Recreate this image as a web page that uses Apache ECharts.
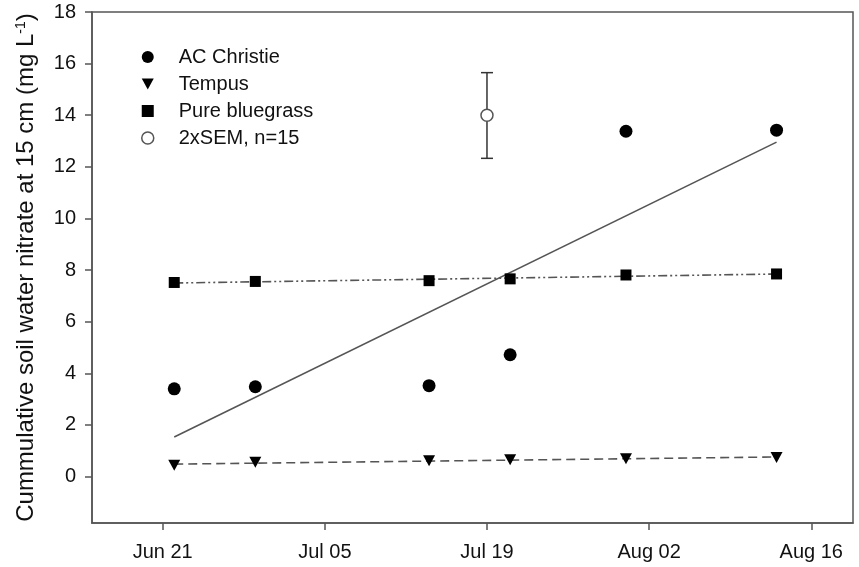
<!DOCTYPE html>
<html>
<head>
<meta charset="utf-8">
<script src="https://cdn.jsdelivr.net/npm/echarts@6/dist/echarts.min.js"></script>
<style>
  html, body { margin: 0; padding: 0; background: #ffffff; }
  #chart { width: 859px; height: 567px; }
</style>
</head>
<body>
<div id="chart"></div>
<script>
// Sampling days, counted from Jun 21
const sampleDays = [1, 8, 23, 30, 40, 53];
// Cumulative soil water nitrate at 15 cm (mg L-1)
const acChristie = [3.40, 3.48, 3.52, 4.72, 13.38, 13.42];
const tempus = [0.44, 0.55, 0.61, 0.65, 0.69, 0.74];
const pureBluegrass = [7.52, 7.56, 7.59, 7.66, 7.81, 7.85];
// Reference error bar (2 x SEM, n = 15)
const semDay = [28];
const semMean = [14.0];
const semLow = [12.33];
const semHigh = [15.65];
// Axis ticks
const xTickDays = [0, 14, 28, 42, 56];
const xTickLabels = ['Jun 21', 'Jul 05', 'Jul 19', 'Aug 02', 'Aug 16'];
const yTickValues = [0, 2, 4, 6, 8, 10, 12, 14, 16, 18];

const FONT = 'Liberation Sans, Arial, sans-serif';
const INK = '#111111';
const GRAY = '#555555';
const TRI_DOWN = 'path://M0,0 L10,0 L5,9 Z';

// Least-squares straight line through one treatment, drawn over its sampled range
function linearFit(xs, ys) {
  const n = xs.length;
  const mx = xs.reduce((a, b) => a + b, 0) / n;
  const my = ys.reduce((a, b) => a + b, 0) / n;
  let sxy = 0, sxx = 0;
  for (let i = 0; i < n; i++) {
    sxy += (xs[i] - mx) * (ys[i] - my);
    sxx += (xs[i] - mx) * (xs[i] - mx);
  }
  const b = sxy / sxx;
  const a = my - b * mx;
  const x0 = xs[0], x1 = xs[n - 1];
  return [[x0, a + b * x0], [x1, a + b * x1]];
}

const pairs = (xs, ys) => xs.map((x, i) => [x, ys[i]]);

const chart = echarts.init(document.getElementById('chart'), null, { renderer: 'canvas' });

const fitLine = (xs, ys, type) => ({
  type: 'line',
  data: linearFit(xs, ys),
  symbol: 'none',
  silent: true,
  z: 1,
  lineStyle: { color: GRAY, width: 1.6, type: type }
});

chart.setOption({
  animation: false,
  backgroundColor: '#ffffff',
  textStyle: { fontFamily: FONT },
  grid: {
    left: 92, right: 6, top: 12, bottom: 44,
    show: true, borderColor: GRAY, borderWidth: 1.5, backgroundColor: 'transparent'
  },
  legend: {
    orient: 'vertical',
    left: 136, top: 42,
    itemWidth: 12, itemHeight: 12, itemGap: 7,
    selectedMode: false,
    textStyle: { fontFamily: FONT, fontSize: 20, color: INK, padding: [0, 0, 0, 20] },
    data: [
      { name: 'AC Christie', icon: 'circle', itemStyle: { color: '#000000', opacity: 1 } },
      { name: 'Tempus', icon: TRI_DOWN, itemStyle: { color: '#000000', opacity: 1 } },
      { name: 'Pure bluegrass', icon: 'rect', itemStyle: { color: '#000000', opacity: 1 } },
      { name: '2xSEM, n=15', icon: 'circle', itemStyle: { color: '#ffffff', borderColor: GRAY, borderWidth: 1.5, opacity: 1 } }
    ]
  },
  xAxis: {
    type: 'value',
    min: -6.1, max: 59.6,
    splitLine: { show: false },
    axisLine: { onZero: false, lineStyle: { color: GRAY, width: 1.5 } },
    axisTick: { customValues: xTickDays, length: 7, lineStyle: { color: GRAY, width: 1.5 } },
    axisLabel: {
      customValues: xTickDays,
      formatter: v => xTickLabels[xTickDays.indexOf(v)],
      fontSize: 20, color: INK, margin: 19, fontFamily: FONT
    }
  },
  yAxis: {
    type: 'value',
    min: -1.8, max: 18,
    splitLine: { show: false },
    name: '{t|Cummulative soil water nitrate at 15 cm (mg L}{s|-1}{t|)}',
    nameLocation: 'middle',
    nameGap: 53,
    nameRotate: 90,
    nameTextStyle: {
      rich: {
        t: { fontSize: 24, color: INK, fontFamily: FONT },
        s: { fontSize: 14, color: INK, fontFamily: FONT, padding: [0, 0, 11, 0] }
      }
    },
    axisLine: { show: true, onZero: false, lineStyle: { color: GRAY, width: 1.5 } },
    axisTick: { show: true, customValues: yTickValues, length: 7, lineStyle: { color: GRAY, width: 1.5 } },
    axisLabel: { customValues: yTickValues, fontSize: 20, color: INK, margin: 16, fontFamily: FONT }
  },
  series: [
    fitLine(sampleDays, acChristie, 'solid'),
    fitLine(sampleDays, tempus, [9, 5]),
    fitLine(sampleDays, pureBluegrass, [9, 3, 2, 3, 2, 3]),
    {
      type: 'custom',
      name: 'sem-bar',
      silent: true,
      z: 2,
      data: semDay.map((d, i) => [d, semLow[i], semHigh[i]]),
      renderItem: function (params, api) {
        const top = api.coord([api.value(0), api.value(2)]);
        const bot = api.coord([api.value(0), api.value(1)]);
        const half = 6;
        const style = { stroke: '#333333', lineWidth: 1.5 };
        return {
          type: 'group',
          children: [
            { type: 'line', shape: { x1: top[0], y1: top[1], x2: bot[0], y2: bot[1] }, style: style },
            { type: 'line', shape: { x1: top[0] - half, y1: top[1], x2: top[0] + half, y2: top[1] }, style: style },
            { type: 'line', shape: { x1: bot[0] - half, y1: bot[1], x2: bot[0] + half, y2: bot[1] }, style: style }
          ]
        };
      }
    },
    {
      type: 'scatter', name: 'AC Christie',
      data: pairs(sampleDays, acChristie),
      symbol: 'circle', symbolSize: 13, z: 3,
      itemStyle: { color: '#000000', opacity: 1 }
    },
    {
      type: 'scatter', name: 'Tempus',
      data: pairs(sampleDays, tempus),
      symbol: TRI_DOWN, symbolSize: [12, 11], z: 3,
      itemStyle: { color: '#000000', opacity: 1 }
    },
    {
      type: 'scatter', name: 'Pure bluegrass',
      data: pairs(sampleDays, pureBluegrass),
      symbol: 'rect', symbolSize: 11, z: 3,
      itemStyle: { color: '#000000', opacity: 1 }
    },
    {
      type: 'scatter', name: '2xSEM, n=15',
      data: pairs(semDay, semMean),
      symbol: 'circle', symbolSize: 12, z: 4,
      itemStyle: { color: '#ffffff', borderColor: GRAY, borderWidth: 1.5, opacity: 1 }
    }
  ]
});
</script>
</body>
</html>
